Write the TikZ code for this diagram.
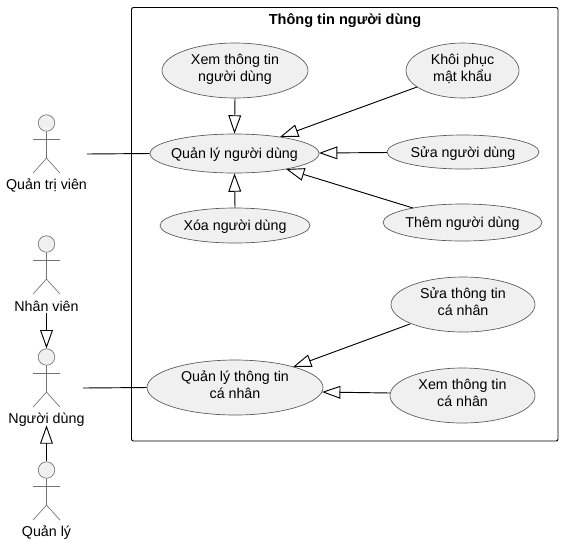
\documentclass[tikz,border=0pt]{standalone}
\usepackage{fontspec}
\setmainfont{Liberation Sans}
\usetikzlibrary{shapes.geometric,arrows.meta}
\tikzset{
 x=0.75pt,y=-0.75pt,
 uc/.style={ellipse,draw=black!65,line width=0.5pt,fill=black!6,minimum width=#1*0.75pt,inner xsep=-24pt,inner ysep=-8pt,align=center,font=\fontsize{10.7}{13}\selectfont,execute at begin node={\rule{0pt}{11.7pt}},execute at end node={\rule[-4pt]{0pt}{0pt}}},
 uctwo/.style={uc=#1,minimum height=55*0.75pt,execute at begin node={\rule{0pt}{17.7pt}}},
 uch/.style={minimum height=#1*0.75pt},
 lbl/.style={font=\fontsize{10.7}{12}\selectfont,inner sep=0pt,execute at begin node=\strut},
 act/.style={draw=black!55,line width=0.5pt},
 head/.style={circle,draw=black!55,line width=0.5pt,fill=black!6,minimum size=16.5*0.75pt,inner sep=0pt},
 gen/.style={draw=black,line width=0.7pt,-{Triangle[open,length=13.8pt,width=9.6pt,fill=white]}},
 assoc/.style={draw=black,line width=0.7pt},
}
\newcommand{\stick}[3]{% name, cx, head cy
 \node[head] (#1) at (#2,#3) {};
 \draw[act] (#1.south) -- ++(0,26.5) coordinate (#1hip) -- ++(-13.5,15);
 \draw[act] (#1hip) -- ++(13.5,15);
 \draw[act] ([yshift=-16*0.75pt]#1.center) ++(-13.5,0) -- ++(27,0);
}
\begin{document}
\begin{tikzpicture}
\useasboundingbox (0,0) rectangle (563,544);
\fill[white] (0,0) rectangle (563,544);
\draw[line width=0.7pt,rounded corners=1.5pt] (131.5,7.5) rectangle (558,441);
\node[font=\bfseries\fontsize{10.9}{12}\selectfont,inner sep=0pt] (title) at (345,20.5) {Thông tin người dùng};

\node[uctwo=146] (xem) at (235,70.5) {Xem thông tin\\người dùng};
\node[uctwo=113] (khoi) at (462.5,70.5) {Khôi phục\\mật khẩu};
\node[uc=169,uch=39] (ql) at (234.5,153.5) {Quản lý người dùng};
\node[uc=152,uch=34] (sua) at (463,152) {Sửa người dùng};
\node[uc=150,uch=35] (xoa) at (235,225.5) {Xóa người dùng};
\node[uc=159,uch=37] (them) at (462.5,222.5) {Thêm người dùng};
\node[uctwo=144] (suatt) at (463,304.5) {Sửa thông tin\\cá nhân};
\node[uctwo=176] (qltt) at (235,387.5) {Quản lý thông tin\\cá nhân};
\node[uctwo=145] (xemtt) at (462.5,395.5) {Xem thông tin\\cá nhân};

\stick{a1}{46.5}{123}
\node[lbl] (l1) at (46.5,186.5) {Quản trị viên};
\stick{a2}{46.5}{244}
\node[lbl] (l2) at (46.5,308) {Nhân viên};
\stick{a3}{46.5}{357}
\node[lbl] (l3) at (46.5,420.5) {Người dùng};
\stick{a4}{46.5}{470}
\node[lbl] (l4) at (46.5,533.5) {Quản lý};

\coordinate (p1) at (87,154);
\coordinate (p3) at (83,388);
\draw[assoc] (p1) -- (ql.west);
\draw[assoc] (p3) -- (qltt.west);

\draw[gen] (xem.south) -- (ql.north);
\draw[gen] (xoa.north) -- (ql.south);
\draw[gen] ([shift={(-76,0.5)}]sua.center) -- ([shift={(84.5,-0.5)}]ql.center);
\draw[gen] ([shift={(-45.5,16.5)}]khoi.center) -- ([shift={(45.5,-16.5)}]ql.center);
\draw[gen] ([shift={(-49.5,-14.5)}]them.center) -- ([shift={(51.5,15.5)}]ql.center);
\draw[gen] ([shift={(-53,19.5)}]suatt.center) -- ([shift={(58,-20.5)}]qltt.center);
\draw[gen] ([shift={(-72.5,-2.5)}]xemtt.center) -- ([shift={(87,4.5)}]qltt.center);
\draw[gen] ([yshift=2.3pt]l2.south) -- (a3.north);
\draw[gen] (a4.north) -- ([yshift=2.6pt]l3.south);
\end{tikzpicture}
\end{document}
